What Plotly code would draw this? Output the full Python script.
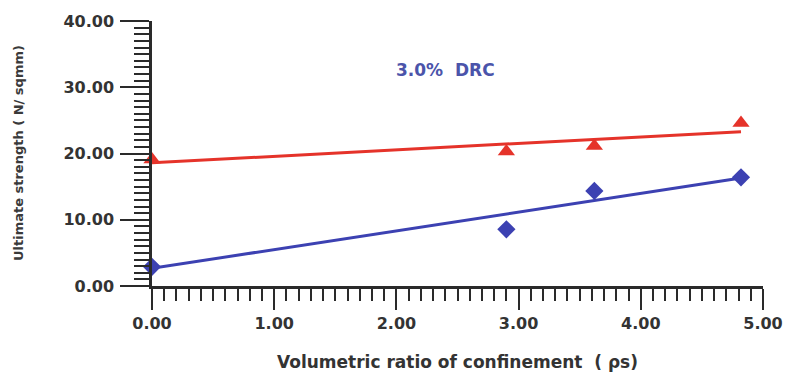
import plotly.graph_objects as go

# Data
rho_s = [0.0, 2.90, 3.62, 4.82]
strength_red = [19.1, 20.3, 21.15, 24.6]
strength_blue = [2.9, 8.56, 14.35, 16.4]

trend_x = [0.0, 4.82]
trend_red = [18.6, 23.3]
trend_blue = [2.67, 16.3]

x_ticks = [0, 1, 2, 3, 4, 5]
y_ticks = [0, 10, 20, 30, 40]

RED = "#e5332a"
BLUE = "#3c41b2"
AX = "#2a2a2a"
FONT = "DejaVu Sans"

fig = go.Figure()
fig.add_trace(go.Scatter(x=trend_x, y=trend_red, mode="lines",
                         line=dict(color=RED, width=3), showlegend=False, hoverinfo="skip"))
fig.add_trace(go.Scatter(x=trend_x, y=trend_blue, mode="lines",
                         line=dict(color=BLUE, width=3), showlegend=False, hoverinfo="skip"))
fig.add_trace(go.Scatter(x=rho_s, y=strength_red, mode="markers",
                         marker=dict(symbol="triangle-up", size=15, color=RED),
                         cliponaxis=False, showlegend=False))
fig.add_trace(go.Scatter(x=rho_s, y=strength_blue, mode="markers",
                         marker=dict(symbol="diamond", size=14, color=BLUE),
                         cliponaxis=False, showlegend=False))

fig.update_layout(
    width=786, height=372,
    margin=dict(l=152, r=23, t=21, b=86),
    paper_bgcolor="white", plot_bgcolor="white",
    font=dict(family=FONT, color="#333333"),
    xaxis=dict(
        range=[0, 5], tickvals=x_ticks, tickformat=".2f",
        automargin=False,
        showgrid=False, zeroline=False,
        showline=True, linecolor=AX, linewidth=2.5,
        ticks="outside", ticklen=21, tickwidth=2, tickcolor=AX,
        minor=dict(dtick=0.1, ticks="outside", ticklen=12, tickwidth=1.7, tickcolor=AX),
        tickfont=dict(family=FONT, size=16, color="#333333", weight="bold"),
        title=dict(text="Volumetric ratio of confinement  ( ρs)",
                   font=dict(family=FONT, size=17, color="#333333", weight="bold"),
                   standoff=25),
    ),
    yaxis=dict(
        range=[0, 40], tickvals=y_ticks, tickformat=".2f",
        automargin=False,
        showgrid=False, zeroline=False,
        showline=True, linecolor=AX, linewidth=2.5,
        ticks="outside", ticklen=29, tickwidth=2, tickcolor=AX,
        minor=dict(dtick=1, ticks="outside", ticklen=15, tickwidth=1.7, tickcolor=AX),
        tickfont=dict(family=FONT, size=16, color="#333333", weight="bold"),
        ticklabelstandoff=3,
    ),
    annotations=[
        dict(text="3.0%  DRC", x=2.405, y=32.55, xref="x", yref="y",
             showarrow=False, font=dict(family=FONT, size=17, color="#4b54aa", weight="bold")),
        dict(text="Ultimate strength ( N/ sqmm)", x=-0.2184, y=0.5, xref="paper", yref="paper",
             textangle=-90, showarrow=False, xanchor="center", yanchor="middle",
             font=dict(family=FONT, size=13, color="#3a3a3a", weight="bold")),
    ],
)

fig.write_html("out.html")
